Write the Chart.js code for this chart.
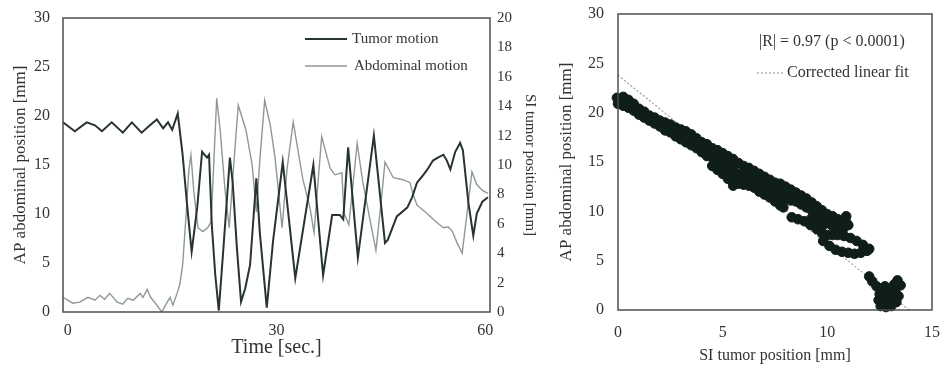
<!DOCTYPE html>
<html>
<head>
<meta charset="utf-8">
<script src="https://cdn.jsdelivr.net/npm/chart.js@4.4.1/dist/chart.umd.min.js"></script>
<style>
  html, body { margin: 0; padding: 0; background: #fff; }
  #wrap { position: relative; width: 943px; height: 368px; }
  .panel { position: absolute; top: 0; height: 368px; }
  #left { left: 0; width: 548px; }
  #right { left: 548px; width: 395px; }
</style>
</head>
<body>
<div id="wrap">
  <div class="panel" id="left"><canvas id="motionChart" width="548" height="368"></canvas></div>
  <div class="panel" id="right"><canvas id="fitChart" width="395" height="368"></canvas></div>
</div>
<script>
// --- Left panel: time series ---
const timeTicks = [0, 30, 60];

const tumorTime = [-0.7, 1.0, 2.7, 3.9, 4.9, 6.3, 7.9, 9.2, 10.6, 11.8, 12.8, 13.7, 14.4, 15.0, 15.8,
  16.5, 17.1, 17.8, 18.6, 19.3, 20.0, 20.3, 20.7, 21.2, 21.7, 22.3, 23.3, 23.7, 24.3, 24.9, 25.5,
  26.2, 27.1, 27.6, 28.6, 29.5, 30.9, 32.7, 35.3, 36.7, 38.0, 39.1, 39.6, 40.3, 41.7, 44.0, 45.6,
  46.0, 47.3, 48.8, 49.5, 50.2, 50.9, 51.7, 52.5, 53.2, 54.0, 54.5, 55.0, 55.7, 56.4, 56.8, 57.6,
  58.3, 58.8, 59.6, 60.4];
const tumorSI = [12.9, 12.3, 12.9, 12.7, 12.3, 12.9, 12.2, 12.9, 12.2, 12.7, 13.1, 12.5, 12.9, 12.4, 13.5,
  10.7, 7.5, 4.1, 7.1, 10.9, 10.5, 10.7, 5.9, 2.5, 0.1, 3.9, 10.5, 8.8, 4.4, 0.7, 1.6,
  3.2, 9.1, 5.4, 0.3, 4.8, 10.2, 2.3, 10.0, 2.5, 6.6, 6.6, 6.3, 11.2, 3.7, 12.0, 4.7,
  4.9, 6.5, 7.1, 7.8, 8.8, 9.2, 9.7, 10.3, 10.5, 10.7, 10.3, 9.7, 10.9, 11.5, 11.0, 7.4,
  5.2, 6.7, 7.5, 7.8];

const abdTime = [-0.7, 0.7, 1.7, 2.9, 3.9, 4.6, 5.3, 6.0, 7.1, 7.9, 8.6, 9.4, 10.4, 10.8, 11.4, 11.9,
  12.8, 13.5, 14.2, 14.7, 15.1, 15.7, 16.1, 16.5, 17.0, 17.4, 17.7, 18.1, 18.7, 19.4, 20.1, 20.6,
  21.0, 21.4, 21.9, 22.6, 23.2, 23.9, 24.5, 25.6, 26.5, 27.1, 27.6, 28.3, 29.1, 29.8, 30.8, 31.5,
  32.4, 33.8, 34.8, 35.4, 36.0, 36.5, 37.7, 38.4, 39.4, 39.7, 40.4, 41.0, 41.6, 42.4, 43.5, 44.3,
  45.0, 45.6, 46.8, 48.2, 49.2, 49.6, 50.2, 51.4, 53.1, 54.0, 54.7, 55.3, 56.0, 56.7, 57.4, 58.1,
  58.8, 59.6, 60.4];
const abdAP = [1.5, 0.9, 1.0, 1.5, 1.2, 1.7, 1.3, 1.9, 1.0, 0.8, 1.4, 1.2, 1.9, 1.5, 2.3, 1.5,
  0.7, 0.0, 0.9, 1.5, 0.7, 1.9, 2.8, 4.8, 9.9, 14.5, 16.0, 12.4, 8.6, 8.2, 8.6, 9.2,
  15.5, 21.8, 18.6, 12.4, 8.6, 15.5, 21.1, 18.6, 15.0, 10.2, 15.5, 21.6, 19.1, 15.7, 8.6, 14.5,
  19.4, 13.5, 10.7, 8.1, 13.5, 17.9, 14.7, 14.0, 14.2, 10.1, 8.9, 13.0, 17.2, 13.3, 9.2, 6.3,
  10.9, 15.3, 13.7, 13.5, 13.2, 12.1, 10.9, 10.2, 9.1, 8.6, 8.7, 8.2, 7.0, 6.0, 10.1, 14.3,
  13.0, 12.4, 12.1];

// --- Right panel: SI tumor vs AP abdominal samples [SI, AP] ---
const bandUpper = [[-0.05, 21.5], [0.25, 21.6], [0.5, 21.3], [0.75, 20.9], [1.0, 20.4], [1.25, 20.1],
  [1.5, 19.7], [1.75, 19.5], [2.0, 19.2], [2.25, 19.0], [2.5, 18.8], [2.75, 18.5], [3.0, 18.3],
  [3.25, 18.1], [3.5, 17.8], [3.75, 17.4], [4.0, 17.0], [4.25, 16.8], [4.5, 16.4], [4.75, 16.2],
  [5.0, 15.9], [5.25, 15.6], [5.5, 15.3], [5.75, 14.9], [6.0, 14.6], [6.25, 14.4], [6.5, 14.1],
  [6.75, 13.8], [7.0, 13.5], [7.25, 13.2], [7.5, 12.9], [7.75, 12.8], [8.0, 12.5], [8.25, 12.2],
  [8.5, 11.9], [8.75, 11.6], [9.0, 11.3], [9.25, 10.9], [9.5, 10.5], [9.75, 10.1], [10.0, 9.7],
  [10.25, 9.5], [10.5, 9.2], [10.75, 9.1], [10.9, 9.5]];
const bandMiddle = [[3.0, 17.8], [3.5, 17.2], [4.0, 16.5], [4.3, 16.0], [4.5, 15.5], [4.75, 15.3],
  [5.0, 15.0], [5.0, 14.4], [5.25, 14.6], [5.5, 14.3], [5.5, 13.4], [5.75, 13.8], [6.0, 13.6],
  [6.25, 13.5], [6.5, 13.2], [6.75, 12.9], [7.0, 12.6], [7.25, 12.3], [7.5, 12.0], [7.75, 11.7],
  [8.0, 11.5], [8.25, 11.1], [8.5, 11.0], [8.75, 10.7], [9.0, 10.4], [9.25, 10.1], [9.5, 9.6],
  [9.75, 9.2], [10.0, 8.8], [10.25, 8.5], [10.5, 8.3], [10.75, 8.2], [11.0, 8.6]];
const bandFill = [[0.6, 20.9], [1.1, 20.1], [1.6, 19.45], [2.1, 18.9], [2.6, 18.4], [3.1, 17.9],
  [3.6, 17.3], [3.9, 16.9], [4.1, 16.3], [4.4, 15.9], [4.6, 15.0], [4.9, 14.7], [5.1, 14.9],
  [5.4, 13.9], [5.6, 13.0], [5.9, 13.2], [6.1, 14.0], [6.1, 13.1], [6.4, 13.8], [6.4, 12.9],
  [6.6, 13.6], [6.6, 12.7], [6.9, 13.2], [6.9, 12.3], [7.1, 13.0], [7.1, 12.1], [7.4, 12.6],
  [7.4, 11.6], [7.6, 12.4], [7.6, 11.3], [7.9, 12.1], [7.9, 11.1], [8.1, 11.9], [8.4, 11.5],
  [8.6, 11.3], [8.9, 10.9], [9.1, 10.8], [9.4, 10.3], [9.6, 10.0], [9.9, 9.5], [10.1, 9.2],
  [10.4, 8.9], [10.6, 8.7], [10.9, 8.9]];
const bandLower = [[0.0, 20.9], [0.25, 20.7], [0.5, 20.5], [0.75, 20.2], [1.0, 19.8], [1.25, 19.5],
  [1.5, 19.2], [1.75, 18.9], [2.0, 18.6], [2.25, 18.2], [2.5, 18.0], [2.75, 17.6], [3.0, 17.3],
  [3.25, 17.0], [3.5, 16.7], [3.75, 16.4], [4.0, 16.0], [4.25, 15.6], [4.5, 14.6], [4.75, 14.2],
  [5.0, 13.8], [5.25, 13.3], [5.5, 12.6], [5.75, 12.8], [6.0, 12.7], [6.25, 12.6], [6.5, 12.4],
  [6.75, 12.0], [7.0, 11.7], [7.25, 11.4], [7.5, 11.0], [7.75, 10.6], [7.9, 10.4]];
const loopPoints = [[8.3, 9.4], [8.6, 9.2], [8.9, 9.0], [9.25, 9.3], [9.2, 8.6], [9.5, 8.9], [9.5, 8.2],
  [9.75, 8.5], [9.75, 7.8], [10.0, 7.6], [10.25, 7.6], [10.5, 7.6], [10.8, 7.5], [11.1, 7.3],
  [11.4, 7.0], [11.7, 6.6], [12.0, 6.2], [9.8, 7.0], [10.1, 6.5], [10.4, 6.1], [10.7, 5.9],
  [11.0, 5.8], [11.3, 5.7], [11.6, 5.8], [11.9, 6.0]];
const clusterPoints = [[12.0, 3.4], [12.15, 2.9], [12.35, 2.4], [12.6, 2.1], [12.5, 1.6], [12.45, 1.0],
  [12.55, 0.4], [12.8, 0.3], [13.05, 0.4], [12.8, 0.9], [12.8, 1.6], [13.05, 1.2], [13.0, 2.0],
  [13.25, 1.8], [13.2, 2.6], [13.35, 3.0], [13.5, 2.5], [13.4, 1.4], [13.3, 0.8], [12.75, 2.4],
  [13.1, 2.3]];

const fitSI = [0, 13.9];
const fitAP = [23.8, 0];

const TUMOR_COLOR = '#27342f';
const ABD_COLOR = '#8e9994';
const DOT_COLOR = '#0f1e19';
const FIT_COLOR = '#9aa39f';

Chart.defaults.font.family = "'Liberation Serif', 'DejaVu Serif', serif";
Chart.defaults.color = '#333';

// no extra room for overflowing end labels, we place the plot box ourselves
const fixBox = size => s => {
  if (s.isHorizontal()) s.height = size; else s.width = size;
  s.paddingLeft = s.paddingRight = s.paddingTop = s.paddingBottom = 0;
};

// box round the plot area
const framePlugin = {
  id: 'frame',
  afterDraw(chart) {
    const { ctx, chartArea: a } = chart;
    ctx.save();
    ctx.strokeStyle = '#4d4d4d';
    ctx.lineWidth = 1.5;
    ctx.strokeRect(a.left, a.top, a.right - a.left, a.bottom - a.top);
    ctx.restore();
  }
};

// legend / annotation text inside the plot, offsets from top-right corner
const notesPlugin = {
  id: 'notes',
  afterDraw(chart, args, opts) {
    const { ctx, chartArea: a } = chart;
    ctx.save();
    (opts.items || []).forEach(it => {
      const y = a.top + it.dy;
      if (it.line) {
        ctx.beginPath();
        ctx.strokeStyle = it.line.color;
        ctx.lineWidth = it.line.width;
        ctx.setLineDash(it.line.dash || []);
        ctx.moveTo(a.right - it.line.from, y);
        ctx.lineTo(a.right - it.line.to, y);
        ctx.stroke();
        ctx.setLineDash([]);
      }
      ctx.fillStyle = '#333';
      ctx.font = it.size + "px 'Liberation Serif', serif";
      ctx.textBaseline = 'middle';
      ctx.textAlign = 'left';
      ctx.fillText(it.text, a.right - it.dx, y);
    });
    ctx.restore();
  }
};

const noGrid = { display: false, drawTicks: false };

new Chart(document.getElementById('motionChart'), {
  type: 'line',
  data: {
    datasets: [
      {
        label: 'Tumor motion',
        data: tumorTime.map((t, i) => ({ x: t, y: tumorSI[i] })),
        yAxisID: 'y1',
        borderColor: TUMOR_COLOR,
        borderWidth: 2,
        pointRadius: 0,
        tension: 0
      },
      {
        label: 'Abdominal motion',
        data: abdTime.map((t, i) => ({ x: t, y: abdAP[i] })),
        yAxisID: 'y',
        borderColor: ABD_COLOR,
        borderWidth: 1.4,
        pointRadius: 0,
        tension: 0
      }
    ]
  },
  options: {
    responsive: false,
    animation: false,
    layout: { padding: { top: 18 } },
    plugins: {
      legend: { display: false },
      tooltip: { enabled: false },
      notes: {
        items: [
          { text: 'Tumor motion', dx: 138, dy: 21, size: 15, line: { from: 185, to: 143, color: TUMOR_COLOR, width: 2 } },
          { text: 'Abdominal motion', dx: 136, dy: 48, size: 15, line: { from: 185, to: 143, color: ABD_COLOR, width: 1.4 } }
        ]
      }
    },
    scales: {
      x: {
        type: 'linear',
        min: -0.7,
        max: 60.7,
        afterBuildTicks: s => { s.ticks = timeTicks.map(v => ({ value: v })); },
        afterFit: fixBox(56),
        grid: noGrid,
        border: { display: false },
        ticks: { padding: 9, maxRotation: 0, font: { size: 16 } },
        title: { display: true, text: 'Time [sec.]', font: { size: 20 }, padding: { top: 0, bottom: 8 } }
      },
      y: {
        position: 'left',
        min: 0,
        max: 30,
        afterFit: fixBox(63),
        grid: noGrid,
        border: { display: false },
        ticks: { stepSize: 5, padding: 13, font: { size: 16 } },
        title: { display: true, text: 'AP abdominal position [mm]', font: { size: 17 }, padding: { top: 10, bottom: 0 } }
      },
      y1: {
        position: 'right',
        min: 0,
        max: 20,
        afterFit: fixBox(58),
        grid: noGrid,
        border: { display: false },
        ticks: { stepSize: 2, padding: 7, font: { size: 15 } },
        title: { display: true, text: 'SI tumor position [mm]', font: { size: 15 }, padding: { top: 9, bottom: 0 } }
      }
    }
  },
  plugins: [framePlugin, notesPlugin]
});

const samples = [...bandUpper, ...bandMiddle, ...bandFill, ...bandLower, ...loopPoints, ...clusterPoints];

new Chart(document.getElementById('fitChart'), {
  type: 'scatter',
  data: {
    datasets: [
      {
        label: 'Samples',
        data: samples.map(p => ({ x: p[0], y: p[1] })),
        backgroundColor: DOT_COLOR,
        borderColor: DOT_COLOR,
        borderWidth: 1,
        pointRadius: 4.8,
        clip: false
      },
      {
        label: 'Corrected linear fit',
        data: fitSI.map((x, i) => ({ x, y: fitAP[i] })),
        showLine: true,
        borderColor: FIT_COLOR,
        borderWidth: 1.2,
        borderDash: [2, 2],
        pointRadius: 0
      }
    ]
  },
  options: {
    responsive: false,
    animation: false,
    layout: { padding: { top: 14, right: 11 } },
    plugins: {
      legend: { display: false },
      tooltip: { enabled: false },
      notes: {
        items: [
          { text: '|R| = 0.97 (p < 0.0001)', dx: 173, dy: 28, size: 16 },
          { text: 'Corrected linear fit', dx: 145, dy: 59, size: 16, line: { from: 175, to: 149, color: FIT_COLOR, width: 1.2, dash: [2, 2] } }
        ]
      }
    },
    scales: {
      x: {
        type: 'linear',
        min: 0,
        max: 15,
        afterFit: fixBox(58),
        grid: noGrid,
        border: { display: false },
        ticks: { stepSize: 5, padding: 13, maxRotation: 0, font: { size: 16 } },
        title: { display: true, text: 'SI tumor position [mm]', font: { size: 16 }, padding: { top: 0, bottom: 3 } }
      },
      y: {
        min: 0,
        max: 30,
        afterFit: fixBox(70),
        grid: noGrid,
        border: { display: false },
        ticks: { stepSize: 5, padding: 14, font: { size: 16 } },
        title: { display: true, text: 'AP abdominal position [mm]', font: { size: 17 }, padding: { top: 8, bottom: 0 } }
      }
    }
  },
  plugins: [framePlugin, notesPlugin]
});
</script>
</body>
</html>
